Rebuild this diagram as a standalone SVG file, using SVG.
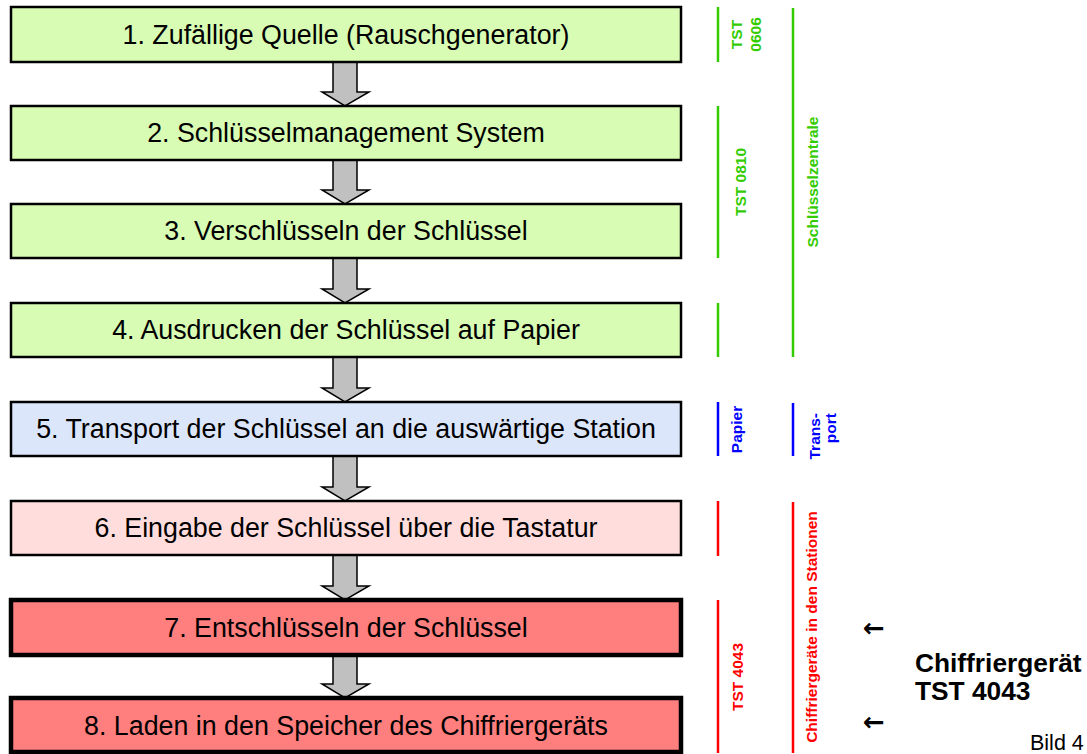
<svg xmlns="http://www.w3.org/2000/svg" width="1087" height="754" viewBox="0 0 1087 754">
<style>
.box{stroke:#000;stroke-width:2.5}
.thick{stroke-width:4.5}
.g{fill:#D8FCB4}.b{fill:#DCE6FA}.p{fill:#FFDDDD}.r{fill:#FF7F7F}
.bt{font-family:"Liberation Sans",Arial,sans-serif;font-size:26.8px;fill:#000;text-anchor:middle}
.arr{fill:#C0C0C0;stroke:#000;stroke-width:1.5;stroke-linejoin:miter}
.vl{stroke-width:2.5;fill:none}
.vt{font-family:"Liberation Sans",Arial,sans-serif;font-size:15.5px;font-weight:bold;text-anchor:middle}
.gc{stroke:#33CC00;fill:#33CC00}.bc{stroke:#0000FF;fill:#0000FF}.rc{stroke:#FF0000;fill:#FF0000}
text.gc,text.bc,text.rc{stroke:none}
.side{font-family:"Liberation Sans",Arial,sans-serif;font-weight:bold;fill:#000}
.la{font-family:"DejaVu Sans",sans-serif;font-weight:bold;font-size:26px;fill:#000}
</style>
<rect width="1087" height="754" fill="#fff"/>
<g id="connectors">
<path class="arr" d="M333,62 V92 H322 L345,106 L369,92 H357 V62 Z"/>
<path class="arr" d="M333,160 V190 H322 L345,204 L369,190 H357 V160 Z"/>
<path class="arr" d="M333,258 V289 H322 L345,303 L369,289 H357 V258 Z"/>
<path class="arr" d="M333,357 V388 H322 L345,402 L369,388 H357 V357 Z"/>
<path class="arr" d="M333,456 V487 H322 L345,501 L369,487 H357 V456 Z"/>
<path class="arr" d="M333,555 V586 H322 L345,600 L369,586 H357 V555 Z"/>
<path class="arr" d="M333,655 V684 H322 L345,698 L369,684 H357 V655 Z"/>
</g>
<g id="n1"><rect class="box g" x="11" y="7" width="670" height="55"/><text class="bt" x="346" y="44">1. Zufällige Quelle (Rauschgenerator)</text></g>
<g id="n2"><rect class="box g" x="11" y="106" width="670" height="54"/><text class="bt" x="346" y="142">2. Schlüsselmanagement System</text></g>
<g id="n3"><rect class="box g" x="11" y="204" width="670" height="54"/><text class="bt" x="346" y="240">3. Verschlüsseln der Schlüssel</text></g>
<g id="n4"><rect class="box g" x="11" y="303" width="670" height="54"/><text class="bt" x="346" y="339">4. Ausdrucken der Schlüssel auf Papier</text></g>
<g id="n5"><rect class="box b" x="11" y="402" width="670" height="54"/><text class="bt" x="346" y="438">5. Transport der Schlüssel an die auswärtige Station</text></g>
<g id="n6"><rect class="box p" x="11" y="501" width="670" height="54"/><text class="bt" x="346" y="537">6. Eingabe der Schlüssel über die Tastatur</text></g>
<g id="n7"><rect class="box thick r" x="11" y="600" width="670" height="55"/><text class="bt" x="346" y="637">7. Entschlüsseln der Schlüssel</text></g>
<g id="n8"><rect class="box thick r" x="11" y="698" width="670" height="54"/><text class="bt" x="346" y="735">8. Laden in den Speicher des Chiffriergeräts</text></g>
<g id="labels">
<line class="vl gc" x1="718" y1="7" x2="718" y2="62"/>
<text class="vt gc" transform="translate(742,34.5) rotate(-90)">TST</text>
<text class="vt gc" transform="translate(761,34.5) rotate(-90)">0606</text>
<line class="vl gc" x1="718" y1="106" x2="718" y2="258"/>
<text class="vt gc" transform="translate(746,182) rotate(-90)">TST 0810</text>
<line class="vl gc" x1="718" y1="303" x2="718" y2="357"/>
<line class="vl gc" x1="793" y1="8" x2="793" y2="357"/>
<text class="vt gc" transform="translate(818,182) rotate(-90)">Schlüsselzentrale</text>
<line class="vl bc" x1="718" y1="402" x2="718" y2="456"/>
<text class="vt bc" transform="translate(742,429.5) rotate(-90)">Papier</text>
<line class="vl bc" x1="793" y1="403" x2="793" y2="456"/>
<text class="vt bc" style="text-anchor:end" transform="translate(820,413) rotate(-90)">Trans-</text>
<text class="vt bc" style="text-anchor:end" transform="translate(836,413) rotate(-90)">port</text>
<line class="vl rc" x1="718" y1="501" x2="718" y2="556"/>
<line class="vl rc" x1="718" y1="600" x2="718" y2="753"/>
<text class="vt rc" transform="translate(743,677) rotate(-90)">TST 4043</text>
<line class="vl rc" x1="793" y1="502" x2="793" y2="753"/>
<text class="vt rc" transform="translate(817,627) rotate(-90)">Chiffriergeräte in den Stationen</text>
</g>
<g id="side">
<text class="la" x="863" y="637">←</text>
<text class="la" x="863" y="731">←</text>
<text class="side" x="915" y="672" font-size="26.3">Chiffriergerät</text>
<text class="side" x="915" y="700" font-size="26.3">TST 4043</text>
<text x="1030" y="750" font-family="'Liberation Sans',Arial,sans-serif" font-size="21.5" fill="#000">Bild 4</text>
</g>
</svg>
